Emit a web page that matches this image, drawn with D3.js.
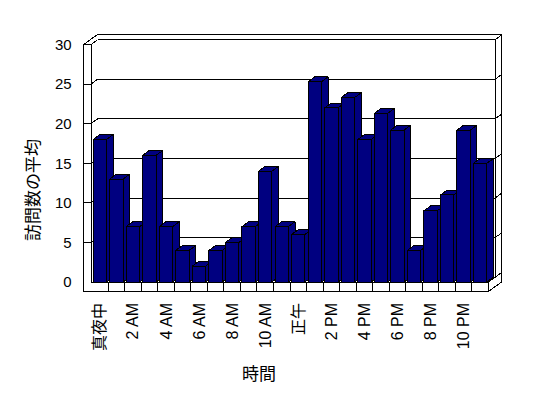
<!DOCTYPE html>
<html>
<head>
<meta charset="utf-8">
<script src="https://cdn.jsdelivr.net/npm/d3@7"></script>
<style>
  body { margin: 0; background: #fff; }
  text { font-family: "Liberation Sans", "Noto Sans CJK JP", sans-serif; fill: #000; }
</style>
</head>
<body>
<div id="chart"></div>
<script>
// data
var hours = ["真夜中", "1 AM", "2 AM", "3 AM", "4 AM", "5 AM", "6 AM", "7 AM", "8 AM", "9 AM", "10 AM", "11 AM",
             "正午", "1 PM", "2 PM", "3 PM", "4 PM", "5 PM", "6 PM", "7 PM", "8 PM", "9 PM", "10 PM", "11 PM"];
var visits = [18, 13, 7, 16, 7, 4, 2, 4, 5, 7, 14, 7,
              6, 25.3, 22, 23.3, 18, 21.3, 19.2, 4, 9, 11, 19.2, 15];
var yTicks = [0, 5, 10, 15, 20, 25, 30];

var svgWidth = 548;
var svgHeight = 398;

// front plane of the box
var x0 = 91, x1 = 488.5;
var wallT = 7.3;      // left wall thickness
var floorH = 9.5;     // floor thickness
var dep = {x: 6.6, y: -4.8};   // depth offset of one "unit"

var svg = d3.select("#chart")
    .append("svg")
    .attr("width", svgWidth)
    .attr("height", svgHeight);

var xScale = d3.scaleBand()
    .domain(hours)
    .range([91.5, 488.5])
    .padding(0);

var yScale = d3.scaleLinear()
    .domain([0, 30])
    .range([282, 44.5]);

var y0 = yScale(0), yT = yScale(30);
var line = d3.line();

var walls = svg.append("g")
    .attr("fill", "none")
    .attr("stroke", "#000")
    .attr("stroke-width", 1)
    .attr("shape-rendering", "crispEdges");

function seg(g, pts, fill) {
    g.append("path")
        .attr("d", line(pts) + (fill ? "Z" : ""))
        .attr("fill", fill || "none");
}

// outer silhouette of walls + floor
seg(walls, [
    [x0 - wallT, yT],
    [x0 - wallT + 2 * dep.x, yT + 2 * dep.y],
    [x1 + 2 * dep.x, yT + 2 * dep.y],
    [x1 + 2 * dep.x, y0 + floorH + 2 * dep.y],
    [x1, y0 + floorH],
    [x0 - wallT, y0 + floorH]
], "#fff");

// left wall front face + inner edge
seg(walls, [[x0 - wallT, yT], [x0, yT]]);
seg(walls, [[x0, yT], [x0, y0]]);
seg(walls, [[x0, yT], [x0 + dep.x, yT + dep.y]]);

// back wall inner face
seg(walls, [[x0 + dep.x, yT + dep.y], [x1 + dep.x, yT + dep.y], [x1 + dep.x, y0 + dep.y]]);
seg(walls, [[x1 + dep.x, yT + dep.y], [x1 + 2 * dep.x, yT + 2 * dep.y]]);

// gridlines
yTicks.filter(function(v) { return v > 0 && v < 30; }).forEach(function(v) {
    var g = yScale(v);
    seg(walls, [[x0 - wallT, g], [x0, g], [x0 + dep.x, g + dep.y], [x1 + dep.x, g + dep.y],
                [x1 + 2 * dep.x, g + 2 * dep.y]]);
});

// floor
seg(walls, [[x0, y0], [x1, y0], [x1, y0 + floorH]]);
seg(walls, [[x1, y0], [x1 + 2 * dep.x, y0 + 2 * dep.y]]);
var step = xScale.step();
hours.forEach(function(h, i) {
    if (i === 0) return;
    var bx = xScale(h);
    seg(walls, [[bx, y0], [bx, y0 + floorH]]);
});

// bars, left to right so each one covers the side of the previous
var barPad = 0.095;
var bars = svg.append("g")
    .attr("fill", "#000080")
    .attr("stroke", "#000")
    .attr("stroke-linejoin", "round")
    .attr("shape-rendering", "crispEdges");

hours.forEach(function(h, i) {
    var bx = xScale(h) + xScale.bandwidth() * barPad;
    var bw = xScale.bandwidth() * (1 - 2 * barPad);
    var by = yScale(visits[i]);
    var g = bars.append("g");
    // side
    g.append("path").attr("d", line([
        [bx + bw, by], [bx + bw + dep.x, by + dep.y], [bx + bw + dep.x, y0 + dep.y], [bx + bw, y0]
    ]) + "Z");
    // top
    g.append("path").attr("d", line([
        [bx, by], [bx + dep.x, by + dep.y], [bx + bw + dep.x, by + dep.y], [bx + bw, by]
    ]) + "Z");
    // front
    g.append("rect")
        .attr("x", bx)
        .attr("y", by)
        .attr("width", bw)
        .attr("height", y0 - by);
});

// y tick labels
var leftAxis = d3.axisLeft(yScale)
    .tickValues(yTicks)
    .tickSize(0)
    .tickPadding(12);

var yAxis = svg.append("g")
    .attr("transform", `translate(${x0 - wallT}, 0)`)
    .call(leftAxis);
yAxis.select(".domain").remove();
yAxis.selectAll("text")
    .style("font-size", "15px")
    .style("font-family", "\"Liberation Sans\", \"Noto Sans CJK JP\", sans-serif")
    .attr("fill", "#000");

// x tick labels, every second hour
svg.append("g").selectAll("text")
    .data(hours.filter(function(h, i) { return i % 2 === 0; }))
    .enter()
    .append("text")
    .attr("transform", d => `translate(${xScale(d) + step / 2}, 303) rotate(-90)`)
    .attr("text-anchor", "end")
    .attr("dy", "0.35em")
    .style("font-size", "16px")
    .text(d => d);

// axis titles
svg.append("text")
    .attr("transform", "translate(33, 190) rotate(-90)")
    .attr("text-anchor", "middle")
    .attr("dy", "0.35em")
    .style("font-size", "17px")
    .text("訪問数の平均");

svg.append("text")
    .attr("x", 259)
    .attr("y", 374)
    .attr("text-anchor", "middle")
    .attr("dy", "0.35em")
    .style("font-size", "17px")
    .text("時間");
</script>
</body>
</html>
